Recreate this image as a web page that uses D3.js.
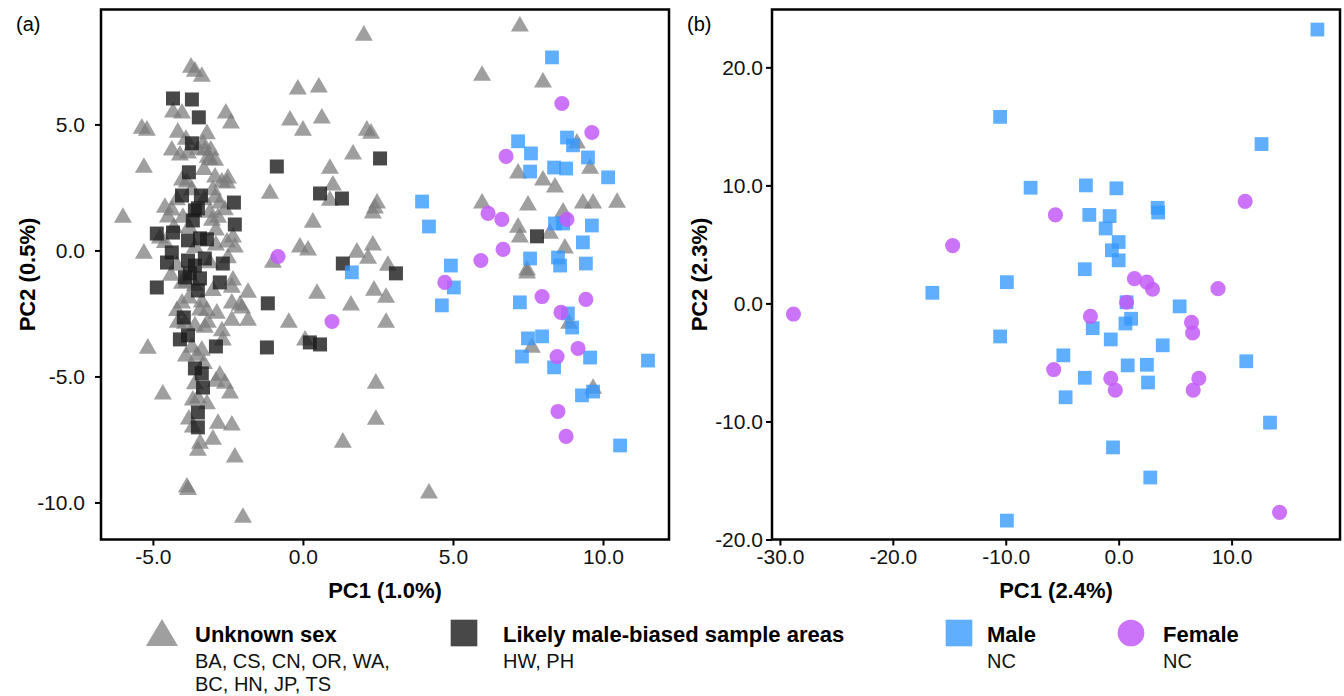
<!DOCTYPE html>
<html>
<head>
<meta charset="utf-8">
<script src="https://d3js.org/d3.v7.min.js"></script>
<style>
  body { margin: 0; background: #fff; }
  svg { font-family: "Liberation Sans", Arial, sans-serif; }
</style>
</head>
<body>
<div id="chart"></div>
<script>
// panel (a): PC1 / PC2 of all samples
var unknownSex = [
  [-6.0,1.3],[-5.37,4.84],[-5.2,4.76],[-5.3,3.29],[-5.3,-0.12],[-5.17,-3.89],[-4.67,-5.71],
  [-3.73,7.26],[-3.6,7.1],[-3.37,6.9],[-4.33,5.48],[-4.03,5.44],[-2.57,5.44],[-2.4,5.04],[-4.17,4.68],
  [-4.37,3.97],[-4.1,3.77],[-3.83,3.85],[-3.2,4.62],[-3.33,4.23],[-3.07,3.97],[-3.17,3.69],[-2.93,3.57],[-3.27,3.97],
  [-2.93,2.9],[-2.7,2.7],[-2.5,2.86],[-2.53,2.66],[-4.03,2.78],[-3.87,2.7],[-1.1,2.26],[-2.93,2.1],[-2.77,1.87],
  [-4.6,1.7],[-4.37,1.59],[-4.5,1.31],[-2.83,1.3],[-3.03,1.19],[-2.33,0.52],[-2.53,0.32],[-2.27,0.12],[-4.77,0.48],
  [-1.0,-0.48],[-4.03,-1.31],[-3.87,-1.27],[-2.33,-1.19],[-2.37,-1.47],[-1.83,-1.67],
  [-2.1,-2.18],[-2.37,-2.1],[-2.03,-2.3],[-1.83,-2.78],[-2.37,-2.78],[-2.87,-2.5],[-3.17,-2.86],[-3.27,-3.06],
  [-4.03,-2.1],[-3.37,-2.06],[-3.43,-2.38],[-4.17,-2.86],[-3.93,-2.9],[-2.67,-3.57],[-3.37,-3.97],[-3.53,-4.17],[-3.7,-3.85],
  [-2.77,-4.96],[-2.6,-5.28],[-2.43,-5.67],[-3.5,-5.87],[-3.67,-5.95],[-2.83,-6.87],[-2.37,-6.94],[-3.67,-7.02],
  [-3.43,-7.66],[-3.5,-7.94],[-2.27,-8.21],[-3.87,-9.4],[-3.83,-9.5],[-2.0,-10.6],
  [-3.9,4.4],[-3.5,4.0],[-3.1,3.6],[-3.3,3.2],[-3.7,2.4],[-3.0,2.4],[-4.2,2.0],[-3.3,2.0],[-4.0,1.3],[-3.1,1.5],
  [-2.6,1.6],[-4.3,0.9],[-3.8,0.9],[-2.9,0.8],[-4.6,0.3],[-3.6,0.1],[-2.9,0.2],[-4.2,-0.6],[-3.1,-0.5],[-2.5,-0.3],
  [-4.4,-1.0],[-3.6,-1.4],[-3.0,-1.6],[-3.8,-1.9],[-3.2,-2.4],[-4.2,-2.4],[-3.6,-3.0],[-2.7,-3.2],[-3.9,-4.2],
  [-3.3,-4.5],[-2.9,-5.2],[-3.6,-5.3],[-3.2,-6.1],[-3.8,-6.7],[-3.0,-7.5],
  [-0.17,6.39],[0.53,6.47],[-0.43,5.16],[0.0,4.76],[0.63,5.24],[0.9,3.25],[1.0,2.58],[0.9,1.98],[0.33,1.11],
  [-0.1,0.12],[0.17,0.0],[2.03,8.53],[7.23,8.89],[5.97,6.94],[8.0,6.67],[2.13,4.76],[2.27,4.64],[1.67,3.81],
  [2.47,1.87],[2.4,1.67],[2.33,1.47],[1.8,-0.08],[2.33,0.2],[2.17,-0.32],[2.83,-0.6],
  [7.17,3.06],[8.0,2.78],[8.4,2.5],[5.97,1.87],[7.5,1.79],[7.17,0.91],[7.23,0.52],[8.23,0.67],[8.73,0.08],[7.47,-0.79],
  [9.13,4.25],[9.57,3.25],[9.33,1.87],[9.67,1.87],[10.47,1.9],[8.67,1.51],
  [0.47,-1.71],[1.6,-2.18],[2.37,-1.59],[2.77,-1.87],[2.77,-2.86],[0.07,-3.57],[-0.47,-2.86],
  [2.43,-5.28],[2.43,-6.71],[1.33,-7.62],[4.2,-9.64],[7.47,-0.91],[8.87,-2.9],[7.63,-3.85],[9.67,-5.48]
];
var maleBiased = [
  [-4.33,6.03],[-3.7,5.99],[-3.47,5.28],[-3.7,4.25],[-3.8,3.1],[-0.87,3.33],
  [-4.03,2.18],[-3.4,2.18],[-2.3,1.9],[-3.6,1.59],[-3.5,1.67],[-2.27,1.03],[-3.67,1.19],
  [-4.87,0.67],[-4.33,0.71],[-3.83,0.4],[-3.2,0.44],[-3.43,0.48],[-4.37,-0.08],
  [0.57,2.26],[1.3,2.06],[1.33,-0.52],
  [-4.53,-0.48],[-3.83,-0.4],[-3.6,-0.6],[-3.27,-0.32],[-3.77,-0.91],[-3.93,-1.07],[-3.43,-1.11],[-3.5,-1.59],
  [-2.67,-0.52],[-2.77,-1.27],[-4.87,-1.47],[-1.17,-2.1],
  [-3.97,-2.66],[-4.1,-3.53],[-3.83,-3.37],[-2.9,-3.81],[-1.2,-3.85],
  [-3.6,-4.68],[-3.37,-4.88],[-3.33,-5.44],[-3.5,-6.43],[-3.5,-7.02],
  [2.57,3.65],[3.1,-0.91],[0.23,-3.65],[0.57,-3.73],[7.8,0.56]
];
var maleA = [
  [8.3,7.66],[7.17,4.33],[7.6,3.85],[8.8,4.48],[9.0,4.17],[9.5,3.69],[7.57,3.13],[8.37,3.29],[8.77,3.25],[10.17,2.9],
  [3.97,1.94],[4.2,0.95],[8.4,1.07],[8.67,1.07],[9.63,0.99],[9.33,0.32],[4.93,-0.6],[7.57,-0.32],[8.5,-0.28],[8.57,-0.6],
  [9.43,-0.52],[1.63,-0.87],[5.03,-1.47],[4.63,-2.18],[7.23,-2.06],[8.83,-2.5],[8.97,-3.06],[7.5,-3.49],[7.97,-3.41],
  [7.3,-4.21],[8.37,-4.64],[9.57,-4.25],[11.5,-4.37],[9.3,-5.75],[9.67,-5.6],[10.57,-7.74]
];
var femaleA = [
  [8.63,5.83],[9.63,4.68],[6.77,3.73],[6.17,1.47],[6.63,1.23],[8.8,1.23],[6.67,0.04],[5.93,-0.4],[4.73,-1.27],
  [-0.83,-0.24],[0.97,-2.82],[7.97,-1.83],[9.43,-1.94],[8.6,-2.46],[9.17,-3.89],[8.47,-4.21],[8.5,-6.39],[8.77,-7.38]
];
// panel (b): NC samples only
var maleB = [
  [17.6,23.2],[-10.5,15.8],[12.65,13.5],[-7.8,9.8],[-2.9,10.0],[-0.2,9.75],[3.45,8.1],[3.5,7.7],[-2.6,7.5],[-0.8,7.4],
  [-1.15,6.35],[0,5.2],[-0.6,4.5],[0,3.65],[-3.0,2.9],[-9.9,1.8],[-16.5,0.9],[0.7,0.1],[5.4,-0.25],[1.1,-1.3],
  [0.6,-1.7],[-2.3,-2.1],[-10.5,-2.8],[-0.7,-3.05],[3.9,-3.55],[-4.9,-4.4],[0.8,-5.25],[2.5,-5.2],[11.3,-4.9],
  [-3.0,-6.3],[2.6,-6.7],[-4.7,-7.95],[13.4,-10.1],[-0.5,-12.2],[2.8,-14.75],[-9.9,-18.4]
];
var femaleB = [
  [-28.8,-0.9],[-14.7,4.9],[-5.6,7.5],[11.2,8.65],[1.4,2.1],[2.5,1.8],[3.0,1.2],[8.8,1.25],[0.7,0.1],
  [-2.5,-1.1],[6.45,-1.6],[6.55,-2.5],[-5.75,-5.6],[-0.7,-6.35],[-0.3,-7.35],[7.1,-6.35],[6.6,-7.35],[14.25,-17.7]
];
var ticksAx = [-5, 0, 5, 10], ticksAy = [-10, -5, 0, 5];
var ticksBx = [-30, -20, -10, 0, 10], ticksBy = [-20, -10, 0, 10, 20];
var legendItems = [
  {label: "Unknown sex", sub: ["BA, CS, CN, OR, WA,", "BC, HN, JP, TS"], kind: "tri"},
  {label: "Likely male-biased sample areas", sub: ["HW, PH"], kind: "dark"},
  {label: "Male", sub: ["NC"], kind: "male"},
  {label: "Female", sub: ["NC"], kind: "female"}
];

var styles = {
  tri:    {sym: d3.symbolTriangle, size: 140, fill: "#7a7a7a", op: 0.72},
  dark:   {sym: d3.symbolSquare,   size: 196, fill: "#1a1a1a", op: 0.8},
  male:   {sym: d3.symbolSquare,   size: 190, fill: "#3399ff", op: 0.78},
  female: {sym: d3.symbolCircle,   size: 180, fill: "#c35cf8", op: 0.85}
};

var svg = d3.select("#chart").append("svg").attr("width", 1344).attr("height", 696);

function panel(o) {
  var x = d3.scaleLinear().domain(o.xd).range([o.left, o.right]);
  var y = d3.scaleLinear().domain(o.yd).range([o.bottom, o.top]);
  var g = svg.append("g");

  // points, back to front
  o.series.forEach(function(s){
    var st = styles[s.kind];
    g.append("g").selectAll("path").data(s.data).join("path")
      .attr("d", d3.symbol().type(st.sym).size(st.size))
      .attr("transform", function(d){ return "translate(" + x(d[0]) + "," + y(d[1]) + ")"; })
      .attr("fill", st.fill).attr("fill-opacity", st.op);
  });

  var fmt = function(d){ return d.toFixed(1); }; // plain hyphen minus like the original
  var ax = g.append("g").attr("transform", "translate(0," + o.bottom + ")")
    .call(d3.axisBottom(x).tickValues(o.xt).tickFormat(fmt).tickSize(6).tickPadding(4));
  var ay = g.append("g").attr("transform", "translate(" + o.left + ",0)")
    .call(d3.axisLeft(y).tickValues(o.yt).tickFormat(fmt).tickSize(6).tickPadding(o.ypad));
  [ax, ay].forEach(function(a){
    a.select(".domain").remove();
    a.selectAll("line").attr("stroke", "#000").attr("stroke-width", 2);
    a.selectAll("text").attr("font-size", 21).attr("fill", "#111")
      .attr("font-family", "Liberation Sans, Arial, sans-serif");
  });

  g.append("rect").attr("x", o.left).attr("y", o.top)
    .attr("width", o.right - o.left).attr("height", o.bottom - o.top)
    .attr("fill", "none").attr("stroke", "#000").attr("stroke-width", 2.5);

  g.append("text").attr("x", (o.left + o.right) / 2).attr("y", 598)
    .attr("text-anchor", "middle").attr("font-size", 22).attr("font-weight", "bold")
    .text(o.xlab);
  g.append("text").attr("transform", "translate(" + o.ylx + "," + ((o.top + o.bottom) / 2) + ") rotate(-90)")
    .attr("text-anchor", "middle").attr("dy", "0.35em").attr("font-size", 22).attr("font-weight", "bold")
    .text(o.ylab);
  g.append("text").attr("x", o.tagx).attr("y", 31).attr("font-size", 20).text(o.tag);
}

panel({left: 101, right: 669, top: 9.5, bottom: 539.5, xd: [-6.73, 12.2], yd: [-11.47, 9.56],
  xt: ticksAx, yt: ticksAy, ypad: 10, xlab: "PC1 (1.0%)", ylab: "PC2 (0.5%)", ylx: 27, tag: "(a)", tagx: 16,
  series: [{kind: "tri", data: unknownSex}, {kind: "dark", data: maleBiased},
           {kind: "male", data: maleA}, {kind: "female", data: femaleA}]});

panel({left: 772, right: 1340, top: 9.5, bottom: 539.5, xd: [-30.7, 19.6], yd: [-20, 24.9],
  xt: ticksBx, yt: ticksBy, ypad: 3, xlab: "PC1 (2.4%)", ylab: "PC2 (2.3%)", ylx: 699, tag: "(b)", tagx: 687,
  series: [{kind: "male", data: maleB}, {kind: "female", data: femaleB}]});

// legend
var legX = [162, 464, 959, 1131], txtX = [195, 503, 987, 1163];
var leg = svg.append("g");
legendItems.forEach(function(it, i){
  var st = styles[it.kind];
  if (it.kind == "tri") {
    leg.append("path").attr("d", "M" + (legX[i] - 16) + ",646L" + legX[i] + ",619L" + (legX[i] + 16) + ",646Z")
      .attr("fill", st.fill).attr("fill-opacity", st.op);
  } else {
    leg.append("path").attr("d", d3.symbol().type(st.sym).size(it.kind == "female" ? 560 : 710))
      .attr("transform", "translate(" + legX[i] + ",633)")
      .attr("fill", st.fill).attr("fill-opacity", st.op);
  }
  leg.append("text").attr("x", txtX[i]).attr("y", 642).attr("font-size", 22).attr("font-weight", "bold").text(it.label);
  it.sub.forEach(function(s, j){
    leg.append("text").attr("x", txtX[i]).attr("y", 668 + j * 23).attr("font-size", 20).attr("fill", "#111").text(s);
  });
});
</script>
</body>
</html>
